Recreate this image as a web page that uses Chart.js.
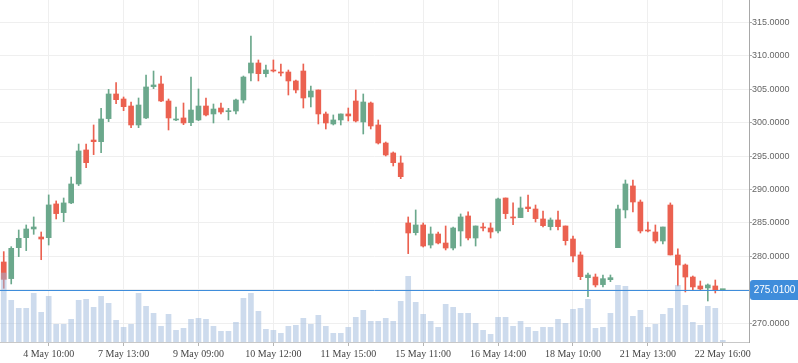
<!DOCTYPE html>
<html>
<head>
<meta charset="utf-8">
<script src="https://cdn.jsdelivr.net/npm/chart.js@4/dist/chart.umd.min.js"></script>
<style>
  html, body { margin: 0; padding: 0; background: #fff; }
  #wrap { width: 798px; height: 363px; }
</style>
</head>
<body>
<div id="wrap"><canvas id="myChart" width="798" height="363"></canvas></div>
<script>
// price data, one candle per slot
var opens  = [279.16,276.67,281.30,282.80,284.10,282.90,282.80,287.85,286.55,288.00,290.84,295.93,297.42,297.17,300.62,304.31,303.56,302.51,299.67,300.72,
              305.41,305.81,303.26,300.42,300.72,300.02,300.42,302.51,301.32,302.21,301.66,301.76,303.41,307.45,308.95,307.35,307.90,307.60,307.60,306.26,
              307.75,303.86,304.91,301.32,299.82,300.42,301.32,303.26,300.12,302.96,299.67,296.97,295.48,293.98,285.00,283.55,284.70,281.70,283.35,282.00,
              281.25,283.80,286.05,282.75,284.40,284.25,283.80,288.74,285.90,285.80,287.39,287.09,285.60,284.45,285.45,284.55,282.60,280.21,276.81,276.91,
              275.77,276.51,281.30,286.95,290.54,288.14,283.95,283.65,282.30,287.69,280.21,278.71,276.91,275.57,275.27,275.57,275.01];
var highs  = [280.71,281.45,283.95,284.70,285.90,283.65,289.20,288.30,288.74,291.88,296.82,296.82,299.67,302.16,305.00,306.00,303.86,303.11,303.71,307.15,
              307.75,307.00,303.56,302.36,302.96,306.85,305.06,303.71,302.81,302.96,302.16,303.56,307.00,312.99,309.40,308.65,309.40,308.80,307.90,306.40,
              308.80,305.51,304.91,301.61,301.17,301.32,302.21,304.91,304.31,303.11,300.42,297.12,295.63,295.03,285.90,286.95,285.00,284.40,283.65,284.55,
              284.40,286.35,286.65,284.55,285.00,285.00,288.74,288.74,288.00,288.89,289.19,287.69,286.79,285.75,286.79,284.55,283.05,280.66,277.51,277.36,
              277.21,277.21,287.69,291.43,291.43,288.44,285.15,284.70,284.40,288.00,281.11,278.86,277.06,276.31,275.87,276.46,275.01];
var lows   = [275.22,275.87,279.96,280.86,283.30,279.50,281.70,285.60,285.20,287.90,290.60,293.28,295.23,295.53,300.17,302.86,301.81,299.27,299.27,300.62,
              305.11,303.16,298.92,300.32,299.72,299.57,300.32,301.02,299.97,301.32,300.42,301.32,302.96,306.26,306.26,306.85,307.60,307.00,304.16,304.46,
              302.21,302.36,299.82,299.07,299.67,299.67,300.27,300.12,298.32,299.07,296.82,295.03,293.53,291.63,280.41,283.20,281.40,281.25,281.85,280.96,
              280.96,281.55,282.45,281.55,283.80,282.75,283.50,285.65,284.75,285.80,286.70,285.15,284.40,283.95,283.95,281.70,279.16,276.51,273.97,275.42,
              275.42,276.21,281.30,285.75,286.65,283.50,283.65,282.00,281.85,280.21,275.57,274.67,274.97,274.97,273.32,274.52,275.01];
var closes = [276.56,281.20,282.70,284.10,284.40,282.60,287.70,286.40,288.00,290.84,295.78,294.03,297.17,300.57,304.31,303.46,302.41,299.67,302.66,305.36,
              305.66,303.26,300.72,300.57,299.97,301.91,302.51,301.17,302.06,301.61,301.81,303.41,306.85,308.95,307.35,307.90,307.75,307.45,306.26,304.91,
              303.71,304.76,301.32,299.97,300.42,301.32,301.02,300.27,303.11,299.52,296.97,295.18,294.03,291.93,283.50,284.70,281.55,283.35,282.00,281.25,
              284.25,285.90,282.75,284.55,284.25,283.65,288.59,286.40,285.75,287.24,287.14,285.65,284.60,285.45,284.45,282.35,280.06,276.96,277.21,275.72,
              276.66,276.81,287.09,290.84,288.14,283.80,283.80,282.30,284.40,280.21,278.71,276.91,275.42,275.12,275.72,274.97,275.01];
var volumes = [690,417,337,337,487,297,457,177,177,227,417,427,347,457,387,217,147,177,487,357,
               287,157,277,117,137,227,237,227,157,107,107,197,437,487,307,127,117,87,157,167,
               237,177,267,157,87,87,147,247,317,207,207,237,207,407,657,397,277,207,147,377,
               347,287,287,187,117,77,247,247,157,207,147,107,147,147,227,187,327,337,427,137,
               147,287,567,557,257,317,147,177,277,337,567,367,197,167,357,337,17];

var lastPrice = 275.01;
var slotCount = 100;
var tickSlots  = [6, 16, 26, 36, 46, 56, 66, 76, 86, 96];
var tickLabels = ['4 May 10:00', '7 May 13:00', '9 May 09:00', '10 May 12:00', '11 May 15:00',
                  '15 May 11:00', '16 May 14:00', '18 May 10:00', '21 May 13:00', '22 May 16:00'];
var priceTicks = [270, 275, 280, 285, 290, 295, 300, 305, 310, 315];

var UP = '#6ba88c', DOWN = '#eb6150', LINE = '#3f8ddb';

var slots = [];
for (var s = 0; s < slotCount; s++) slots.push(s);

var bodies = [], wicks = [], colors = [];
for (var i = 0; i < opens.length; i++) {
  bodies.push([opens[i], closes[i]]);
  wicks.push([lows[i], highs[i]]);
  colors.push(closes[i] >= opens[i] ? UP : DOWN);
}

var lastPriceLine = {
  id: 'lastPriceLine',
  afterDatasetsDraw: function (chart) {
    var ctx = chart.ctx, area = chart.chartArea;
    var y = Math.round(chart.scales.y.getPixelForValue(lastPrice)) + 0.5;
    ctx.save();
    ctx.strokeStyle = LINE;
    ctx.lineWidth = 1;
    ctx.beginPath();
    ctx.moveTo(area.left, y);
    ctx.lineTo(area.right, y);
    ctx.stroke();
    ctx.restore();
  },
  afterDraw: function (chart) {
    var ctx = chart.ctx, area = chart.chartArea;
    var y = Math.round(chart.scales.y.getPixelForValue(lastPrice));
    var x0 = area.right + 1, x1 = chart.width, h = 20, r = 3;
    ctx.save();
    ctx.fillStyle = LINE;
    ctx.beginPath();
    ctx.moveTo(x0 + r, y - h / 2);
    ctx.lineTo(x1, y - h / 2);
    ctx.lineTo(x1, y + h / 2);
    ctx.lineTo(x0 + r, y + h / 2);
    ctx.arcTo(x0, y + h / 2, x0, y + h / 2 - r, r);
    ctx.lineTo(x0, y - h / 2 + r);
    ctx.arcTo(x0, y - h / 2, x0 + r, y - h / 2, r);
    ctx.closePath();
    ctx.fill();
    ctx.fillStyle = '#fff';
    ctx.font = '10px "Liberation Sans", Arial, sans-serif';
    ctx.textAlign = 'center';
    ctx.textBaseline = 'middle';
    ctx.fillText(lastPrice.toFixed(4), (x0 + x1) / 2 + 0.5, y + 0.5);
    ctx.restore();
  }
};

var chart = new Chart('myChart', {
  type: 'bar',
  data: {
    labels: slots,
    datasets: [
      {
        // volume on top, semi transparent
        label: 'Volume',
        data: volumes,
        yAxisID: 'vol',
        backgroundColor: 'rgba(155,183,220,0.5)',
        barThickness: 5,
        grouped: false,
        order: 0
      },
      {
        label: 'Body',
        data: bodies,
        yAxisID: 'y',
        backgroundColor: colors,
        barThickness: 5,
        minBarLength: 1,
        grouped: false,
        order: 1
      },
      {
        label: 'Wick',
        data: wicks,
        yAxisID: 'y',
        backgroundColor: colors,
        barThickness: 1,
        grouped: false,
        order: 2
      }
    ]
  },
  options: {
    responsive: false,
    animation: false,
    layout: { padding: 0 },
    plugins: {
      legend: { display: false },
      tooltip: { enabled: false }
    },
    scales: {
      x: {
        type: 'category',
        offset: true,
        grid: { offset: false, color: '#efefef', tickColor: '#b5b5b5', tickLength: 4 },
        border: { color: '#c8c8c8' },
        afterBuildTicks: function (scale) {
          scale.ticks = tickSlots.map(function (v) { return { value: v }; });
        },
        afterFit: function (scale) {
          scale.height = 21;
          scale.paddingLeft = 0;
          scale.paddingRight = 0;
        },
        ticks: {
          autoSkip: false,
          maxRotation: 0,
          padding: 2,
          color: '#444',
          font: { family: '"Liberation Serif", "Times New Roman", serif', size: 10 },
          callback: function (value) {
            var k = tickSlots.indexOf(value);
            return k >= 0 ? tickLabels[k] : '';
          }
        }
      },
      y: {
        position: 'right',
        min: 267.18,
        max: 318.38,
        grid: { color: '#efefef', tickColor: '#a8a8a8', tickLength: 3 },
        border: { color: '#a8a8a8' },
        afterBuildTicks: function (scale) {
          scale.ticks = priceTicks.map(function (v) { return { value: v }; });
        },
        afterFit: function (scale) {
          scale.width = 49;
          scale.paddingTop = 0;
          scale.paddingBottom = 0;
        },
        ticks: {
          padding: 0,
          color: '#666',
          font: { family: '"Liberation Sans", Arial, sans-serif', size: 9 },
          callback: function (value) { return Number(value).toFixed(4); }
        }
      },
      vol: {
        display: false,
        min: 0,
        max: 3420
      }
    }
  },
  plugins: [lastPriceLine]
});
</script>
</body>
</html>
